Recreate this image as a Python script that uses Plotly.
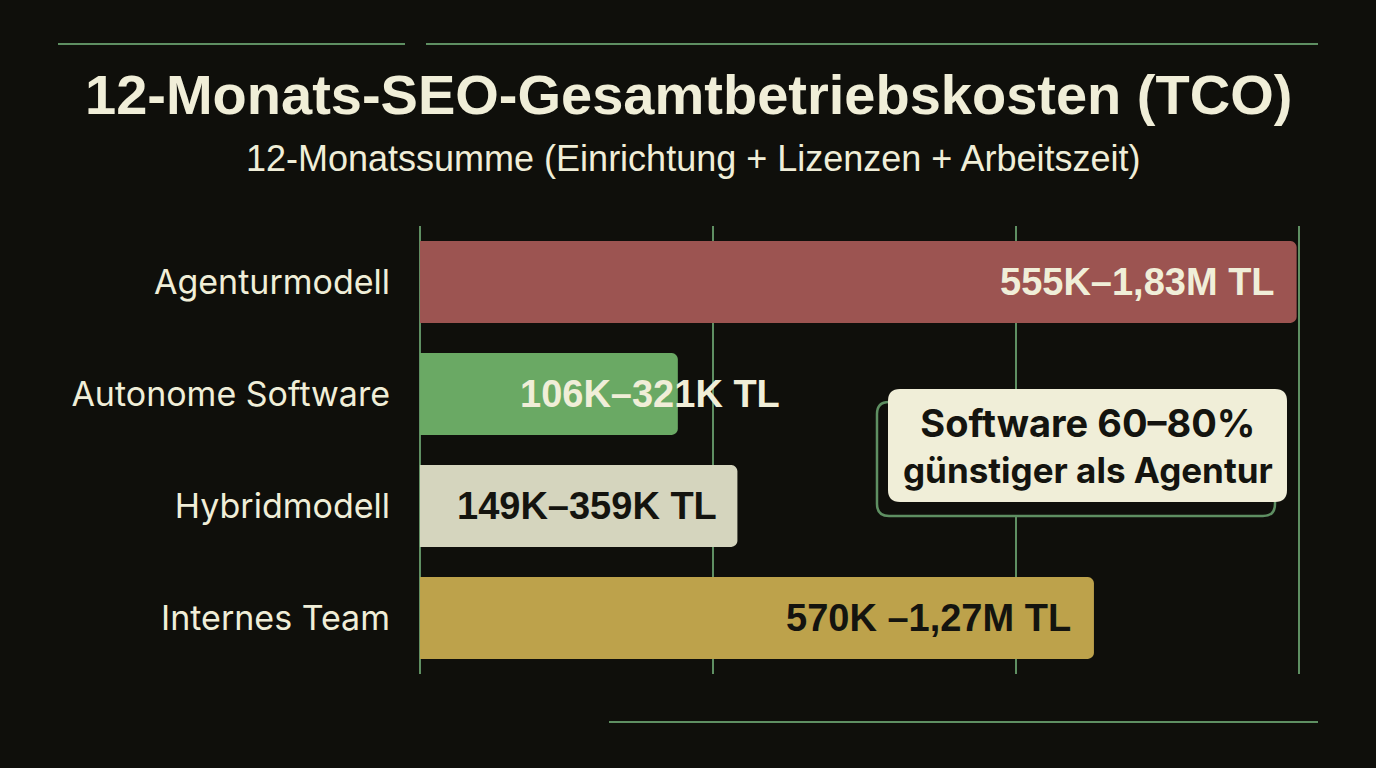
import plotly.graph_objects as go

# Daten
kategorien = ["Agenturmodell", "Autonome Software", "Hybridmodell", "Internes Team"]
balken_k = [1795, 528, 650, 1380]  # Balkenlänge in Tsd. TL
spannen = ["555K–1,83M TL", "106K–321K TL", "149K–359K TL", "570K –1,27M TL"]
farben = ["#9c5451", "#6aa964", "#d5d5be", "#bda24b"]
gitter = [0, 600, 1220, 1800]

BG = "#0f0f0b"
GRUEN = "#5e8f62"
CREME = "#f0eed8"
DUNKEL = "#14140f"

W, H = 1376, 768
L, R, T, B = 418, 74, 226, 94


def px(x, y):
    # Pixel -> Papierkoordinaten
    return (x - L) / (W - L - R), 1 - (y - T) / (H - T - B)


def rundrect(x0, y0, x1, y1, r):
    def p(x, y):
        a, b = px(x, y)
        return f"{a:.5f},{b:.5f}"
    return (f"M{p(x0 + r, y0)} L{p(x1 - r, y0)} Q{p(x1, y0)} {p(x1, y0 + r)} "
            f"L{p(x1, y1 - r)} Q{p(x1, y1)} {p(x1 - r, y1)} L{p(x0 + r, y1)} "
            f"Q{p(x0, y1)} {p(x0, y1 - r)} L{p(x0, y0 + r)} Q{p(x0, y0)} {p(x0 + r, y0)} Z")


fig = go.Figure(go.Bar(
    y=kategorien,
    x=balken_k,
    orientation="h",
    marker=dict(color=farben, line=dict(width=0)),
    width=0.73,
    hoverinfo="skip",
))

# Wertebeschriftungen
label_pos = [
    dict(x=balken_k[0], xanchor="right", xshift=-20, color=CREME),
    dict(x=0, xanchor="left", xshift=98, color=CREME),
    dict(x=0, xanchor="left", xshift=35, color=DUNKEL),
    dict(x=balken_k[3], xanchor="right", xshift=-21, color=DUNKEL),
]
annos = []
for kat, txt, lp in zip(kategorien, spannen, label_pos):
    annos.append(dict(
        x=lp["x"], y=kat, xref="x", yref="y", text=f"<b>{txt}</b>",
        xanchor=lp["xanchor"], xshift=lp["xshift"], yanchor="middle", showarrow=False,
        font=dict(family="Liberation Sans", size=38, color=lp["color"]),
    ))

tx, ty = px(688, 95)
annos.append(dict(x=tx, y=ty, xref="paper", yref="paper", showarrow=False,
                  xanchor="center", yanchor="middle",
                  text="<b>12-Monats-SEO-Gesamtbetriebskosten (TCO)</b>",
                  font=dict(family="Liberation Sans", size=56, color=CREME)))
sx, sy = px(693, 158)
annos.append(dict(x=sx, y=sy, xref="paper", yref="paper", showarrow=False,
                  xanchor="center", yanchor="middle",
                  text="12-Monatssumme (Einrichtung + Lizenzen + Arbeitszeit)",
                  font=dict(family="Liberation Sans", size=36, color=CREME)))
bx, by = px(1088, 445)
annos.append(dict(x=bx, y=by, xref="paper", yref="paper", showarrow=False,
                  xanchor="center", yanchor="middle",
                  text="<b><span style='font-size:38px'>Software 60–80%</span><br>"
                       "günstiger als Agentur</b>",
                  font=dict(family="Inter", size=35, color=DUNKEL)))

shapes = []
for (x0, x1, y) in [(58, 405, 44), (426, 1318, 44), (609, 1318, 722)]:
    a0, b0 = px(x0, y)
    a1, _ = px(x1, y)
    shapes.append(dict(type="line", xref="paper", yref="paper", x0=a0, x1=a1,
                       y0=b0, y1=b0, line=dict(color=GRUEN, width=2)))
shapes.append(dict(type="path", xref="paper", yref="paper", layer="above",
                   path=rundrect(877, 402, 1275, 516, 12),
                   fillcolor=BG, line=dict(color=GRUEN, width=2.5)))
shapes.append(dict(type="path", xref="paper", yref="paper", layer="above",
                   path=rundrect(888, 389, 1287, 502, 12),
                   fillcolor=CREME, line=dict(width=0)))

fig.update_layout(
    width=W, height=H,
    paper_bgcolor=BG, plot_bgcolor=BG,
    margin=dict(l=L, r=R, t=T, b=B),
    showlegend=False,
    barcornerradius=6,
    xaxis=dict(range=[-4, 1806], tickvals=gitter, showticklabels=False,
               showgrid=True, gridcolor=GRUEN, gridwidth=2, zeroline=False),
    yaxis=dict(autorange="reversed", showgrid=False, zeroline=False,
               ticklabelstandoff=27,
               tickfont=dict(family="Inter", size=34, color=CREME)),
    annotations=annos,
    shapes=shapes,
)

fig.write_html("out.html", config={"displayModeBar": False},
               post_script="document.body.style.margin='0';")
